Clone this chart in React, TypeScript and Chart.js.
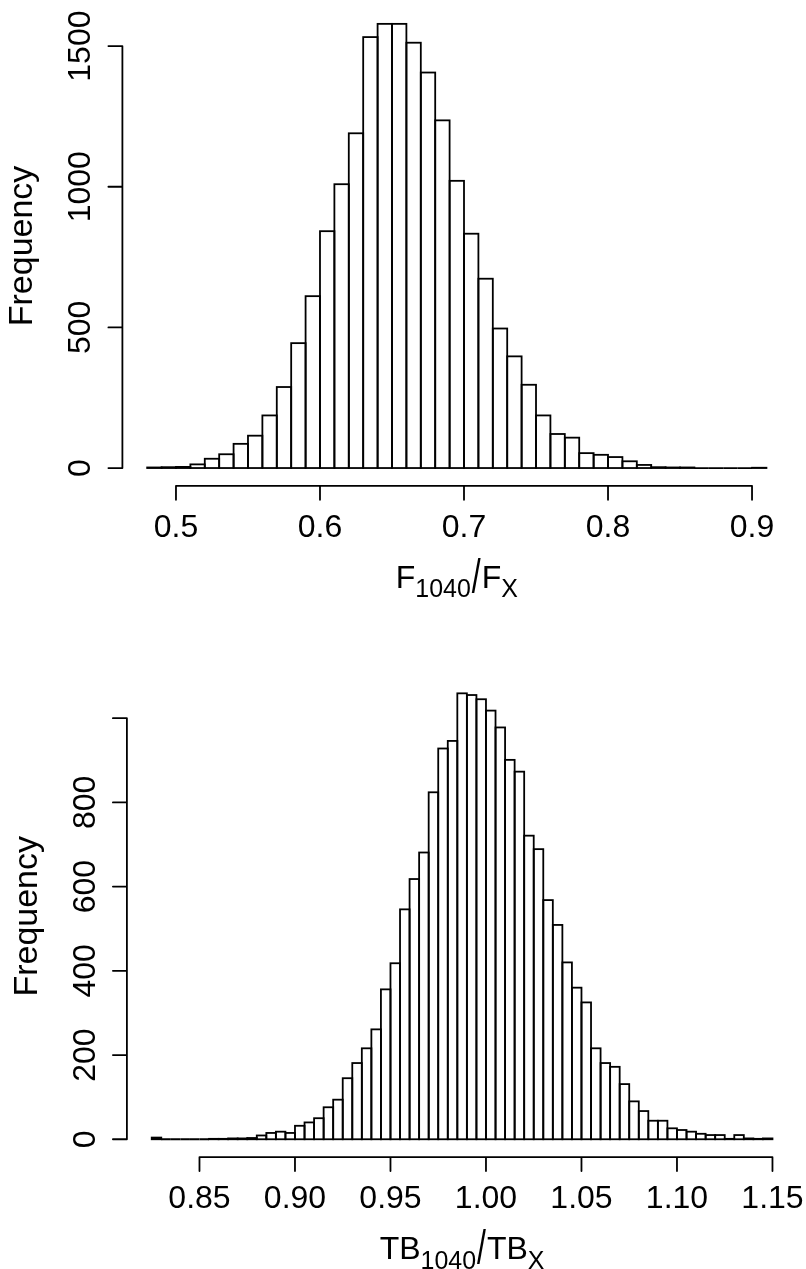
import { useEffect, useRef } from "react";
import { Chart, registerables } from "chart.js";

Chart.register(...registerables);

const FONT_FAMILY = '"Liberation Sans", Arial, Helvetica, sans-serif';
const INK = "#000000";

// F1040 / FX ratio histogram, bins of width 0.01
const ratioFBreaks = [
  0.48, 0.49, 0.5, 0.51, 0.52, 0.53, 0.54, 0.55, 0.56, 0.57, 0.58, 0.59, 0.6, 0.61, 0.62,
  0.63, 0.64, 0.65, 0.66, 0.67, 0.68, 0.69, 0.7, 0.71, 0.72, 0.73, 0.74, 0.75, 0.76, 0.77,
  0.78, 0.79, 0.8, 0.81, 0.82, 0.83, 0.84, 0.85, 0.86, 0.87, 0.88, 0.89, 0.9, 0.91,
];
const ratioFCounts = [
  2, 3, 4, 13, 33, 49, 86, 115, 187, 288, 444, 611, 842, 1009, 1190, 1532, 1579, 1579, 1512,
  1406, 1236, 1021, 833, 673, 496, 397, 296, 187, 121, 108, 53, 47, 39, 24, 11, 3, 2, 2, 0, 0,
  0, 0, 1,
];
const ratioFXTicks = [0.5, 0.6, 0.7, 0.8, 0.9];
const ratioFXTickLabels = ["0.5", "0.6", "0.7", "0.8", "0.9"];
const ratioFYTicks = [0, 500, 1000, 1500];
const ratioFYTickLabels = ["0", "500", "1000", "1500"];

// TB1040 / TBX ratio histogram, bins of width 0.005
const ratioTBBreaks = [
  0.825, 0.83, 0.835, 0.84, 0.845, 0.85, 0.855, 0.86, 0.865, 0.87, 0.875, 0.88, 0.885, 0.89,
  0.895, 0.9, 0.905, 0.91, 0.915, 0.92, 0.925, 0.93, 0.935, 0.94, 0.945, 0.95, 0.955, 0.96,
  0.965, 0.97, 0.975, 0.98, 0.985, 0.99, 0.995, 1.0, 1.005, 1.01, 1.015, 1.02, 1.025, 1.03,
  1.035, 1.04, 1.045, 1.05, 1.055, 1.06, 1.065, 1.07, 1.075, 1.08, 1.085, 1.09, 1.095, 1.1,
  1.105, 1.11, 1.115, 1.12, 1.125, 1.13, 1.135, 1.14, 1.145, 1.15,
];
const ratioTBCounts = [
  4, 0, 0, 0, 0, 0, 1, 1, 2, 2, 3, 9, 15, 18, 15, 32, 40, 50, 76, 94, 145, 181, 216, 261, 356,
  418, 546, 618, 681, 824, 928, 946, 1059, 1055, 1045, 1018, 978, 901, 873, 721, 689, 568, 509,
  420, 360, 325, 216, 181, 172, 131, 90, 67, 44, 44, 26, 22, 18, 13, 10, 10, 1, 10, 2, 1, 2,
];
const ratioTBXTicks = [0.85, 0.9, 0.95, 1.0, 1.05, 1.1, 1.15];
const ratioTBXTickLabels = ["0.85", "0.90", "0.95", "1.00", "1.05", "1.10", "1.15"];
const ratioTBYTicks = [0, 200, 400, 600, 800, 1000];
const ratioTBYTickLabels = ["0", "200", "400", "600", "800", ""];

const yAxisTitle = "Frequency";

type Piece = { text: string; kind: "main" | "sub" | "slash" };

const ratioFTitle: Piece[] = [
  { text: "F", kind: "main" },
  { text: "1040", kind: "sub" },
  { text: "/", kind: "slash" },
  { text: "F", kind: "main" },
  { text: "X", kind: "sub" },
];
const ratioTBTitle: Piece[] = [
  { text: "TB", kind: "main" },
  { text: "1040", kind: "sub" },
  { text: "/", kind: "slash" },
  { text: "TB", kind: "main" },
  { text: "X", kind: "sub" },
];

// Text and line styling shared by both panels
const TICK_SIZE = 32;
const LAB_SIZE = 32;
const YLAB_SIZE = 34;
const TICK_LEN = 14;
const LINE_W = 1.8;
const X_LABEL_OFFSET = 51;
const X_TITLE_OFFSET = 102;
const Y_LABEL_OFFSET = 32;
const Y_TITLE_OFFSET = 90;

interface PanelSpec {
  breaks: number[];
  counts: number[];
  xTicks: number[];
  xTickLabels: string[];
  yTicks: number[];
  yTickLabels: string[];
  title: Piece[];
  width: number;
  height: number;
  padding: { left: number; right: number; top: number; bottom: number };
}

const ratioFPanel: PanelSpec = {
  breaks: ratioFBreaks,
  counts: ratioFCounts,
  xTicks: ratioFXTicks,
  xTickLabels: ratioFXTickLabels,
  yTicks: ratioFYTicks,
  yTickLabels: ratioFYTickLabels,
  title: ratioFTitle,
  width: 806,
  height: 635,
  padding: { left: 122.4, right: 14.8, top: 6.1, bottom: 149.2 },
};

const ratioTBPanel: PanelSpec = {
  breaks: ratioTBBreaks,
  counts: ratioTBCounts,
  xTicks: ratioTBXTicks,
  xTickLabels: ratioTBXTickLabels,
  yTicks: ratioTBYTicks,
  yTickLabels: ratioTBYTickLabels,
  title: ratioTBTitle,
  width: 806,
  height: 634,
  padding: { left: 126.9, right: 8.7, top: 40.5, bottom: 111.9 },
};

// Axis title with subscripts and a tall, thin slash
function drawMathTitle(ctx: CanvasRenderingContext2D, pieces: Piece[], cx: number, baseline: number) {
  const fontFor = (p: Piece) => {
    const size = p.kind === "sub" ? LAB_SIZE * 0.78 : LAB_SIZE;
    return `${size}px ${FONT_FAMILY}`;
  };
  const widths = pieces.map((p) => {
    ctx.font = fontFor(p);
    return ctx.measureText(p.text).width + (p.kind === "slash" ? 2 : 0);
  });
  const total = widths.reduce((a, b) => a + b, 0);
  let x = cx - total / 2;
  ctx.textAlign = "left";
  ctx.textBaseline = "alphabetic";
  pieces.forEach((p, i) => {
    ctx.font = fontFor(p);
    if (p.kind === "slash") {
      ctx.save();
      ctx.translate(x + 1, baseline + 5);
      ctx.scale(1, 1.5);
      ctx.fillText(p.text, 0, 0);
      ctx.restore();
    } else {
      ctx.fillText(p.text, x, baseline + (p.kind === "sub" ? LAB_SIZE * 0.3 : 0));
    }
    x += widths[i];
  });
}

function makeAxesPlugin(spec: PanelSpec) {
  return {
    id: "baseGraphicsAxes",
    afterDatasetsDraw(chart: any) {
      // histogram cell outlines, stroked on the bar edges
      const ctx: CanvasRenderingContext2D = chart.ctx;
      const meta = chart.getDatasetMeta(0);
      ctx.save();
      ctx.strokeStyle = INK;
      ctx.lineWidth = LINE_W;
      meta.data.forEach((el: any) => {
        const { x, y, base, width } = el.getProps(["x", "y", "base", "width"], true);
        ctx.strokeRect(x - width / 2, Math.min(y, base), width, Math.abs(base - y));
      });
      ctx.restore();
    },
    afterDraw(chart: any) {
      const ctx: CanvasRenderingContext2D = chart.ctx;
      const area = chart.chartArea;
      const xs = chart.scales.x;
      const ys = chart.scales.y;
      ctx.save();
      ctx.strokeStyle = INK;
      ctx.fillStyle = INK;
      ctx.lineWidth = LINE_W;
      ctx.lineCap = "round";

      // bottom axis
      const axisY = area.bottom;
      const xPix = spec.xTicks.map((v) => xs.getPixelForValue(v));
      ctx.beginPath();
      ctx.moveTo(xPix[0], axisY);
      ctx.lineTo(xPix[xPix.length - 1], axisY);
      xPix.forEach((px) => {
        ctx.moveTo(px, axisY);
        ctx.lineTo(px, axisY + TICK_LEN);
      });
      ctx.stroke();
      ctx.font = `${TICK_SIZE}px ${FONT_FAMILY}`;
      ctx.textAlign = "center";
      ctx.textBaseline = "alphabetic";
      xPix.forEach((px, i) => ctx.fillText(spec.xTickLabels[i], px, axisY + X_LABEL_OFFSET));

      // left axis
      const axisX = area.left;
      const yPix = spec.yTicks.map((v) => ys.getPixelForValue(v));
      ctx.beginPath();
      ctx.moveTo(axisX, yPix[0]);
      ctx.lineTo(axisX, yPix[yPix.length - 1]);
      yPix.forEach((py) => {
        ctx.moveTo(axisX, py);
        ctx.lineTo(axisX - TICK_LEN, py);
      });
      ctx.stroke();
      yPix.forEach((py, i) => {
        const label = spec.yTickLabels[i];
        if (!label) return;
        ctx.save();
        ctx.translate(axisX - Y_LABEL_OFFSET, py);
        ctx.rotate(-Math.PI / 2);
        ctx.textAlign = "center";
        ctx.fillText(label, 0, 0);
        ctx.restore();
      });

      // axis titles
      ctx.save();
      ctx.translate(axisX - Y_TITLE_OFFSET, (area.top + area.bottom) / 2);
      ctx.rotate(-Math.PI / 2);
      ctx.font = `${YLAB_SIZE}px ${FONT_FAMILY}`;
      ctx.textAlign = "center";
      ctx.fillText(yAxisTitle, 0, 0);
      ctx.restore();

      drawMathTitle(ctx, spec.title, (area.left + area.right) / 2, axisY + X_TITLE_OFFSET);
      ctx.restore();
    },
  };
}

function buildConfig(spec: PanelSpec): any {
  const n = spec.counts.length;
  const points = spec.counts.map((c, i) => ({
    x: (spec.breaks[i] + spec.breaks[i + 1]) / 2,
    y: c,
  }));
  const lo = spec.breaks[0];
  const hi = spec.breaks[n];
  const top = Math.max(...spec.counts);
  // axis ranges padded by 4% on each side
  const xPad = (hi - lo) * 0.04;
  return {
    type: "bar",
    data: {
      datasets: [
        {
          data: points,
          backgroundColor: "#ffffff",
          borderWidth: 0,
          barPercentage: 1,
          categoryPercentage: 1,
          grouped: false,
        },
      ],
    },
    options: {
      animation: false,
      responsive: false,
      maintainAspectRatio: false,
      devicePixelRatio: 1,
      layout: { padding: spec.padding },
      plugins: {
        legend: { display: false },
        tooltip: { enabled: false },
        title: { display: false },
      },
      scales: {
        x: { type: "linear", display: false, offset: false, min: lo - xPad, max: hi + xPad },
        y: { type: "linear", display: false, min: -top * 0.04, max: top * 1.04 },
      },
    },
    plugins: [makeAxesPlugin(spec)],
  };
}

function HistogramPanel({ spec }: { spec: PanelSpec }) {
  const ref = useRef<HTMLCanvasElement | null>(null);
  useEffect(() => {
    if (!ref.current) return;
    const chart = new Chart(ref.current, buildConfig(spec));
    return () => chart.destroy();
  }, [spec]);
  return (
    <canvas
      ref={ref}
      width={spec.width}
      height={spec.height}
      style={{ display: "block", width: spec.width, height: spec.height }}
    />
  );
}

export default function App() {
  return (
    <div
      style={{
        position: "absolute",
        left: 0,
        top: 0,
        width: 806,
        height: 1269,
        background: "#ffffff",
      }}
    >
      <HistogramPanel spec={ratioFPanel} />
      <HistogramPanel spec={ratioTBPanel} />
    </div>
  );
}
